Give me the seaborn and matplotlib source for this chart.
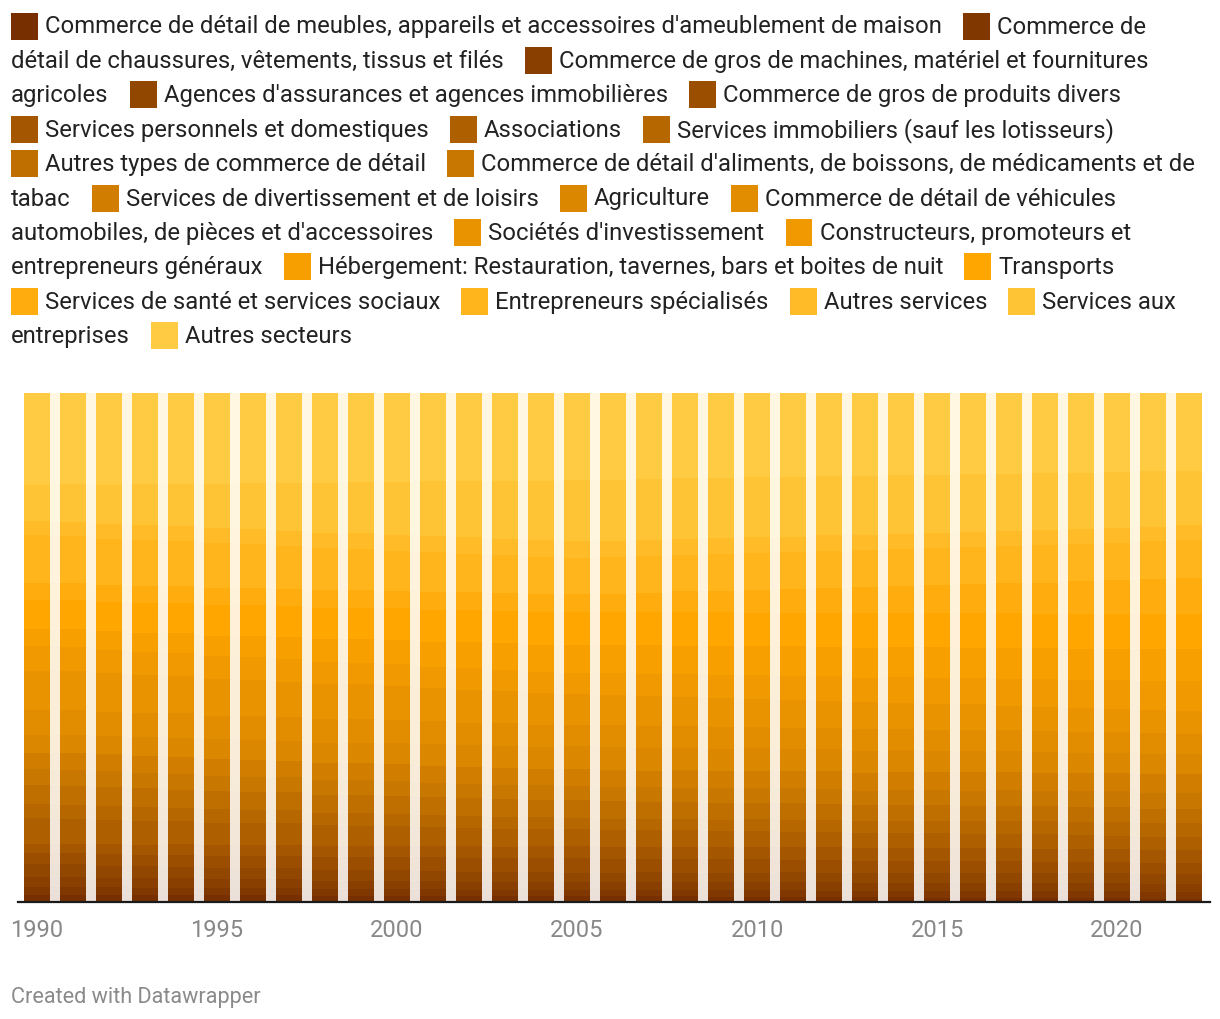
import pandas as pd
import seaborn as sns
import matplotlib.pyplot as plt
from matplotlib.colors import LinearSegmentedColormap
from matplotlib.patches import Rectangle

# Years shown on the x axis
years = list(range(1990, 2023))

# Categories, bottom of the stack first (same order as the legend)
categories = [
    "Commerce de détail de meubles, appareils et accessoires d'ameublement de maison",
    "Commerce de détail de chaussures, vêtements, tissus et filés",
    "Commerce de gros de machines, matériel et fournitures agricoles",
    "Agences d'assurances et agences immobilières",
    "Commerce de gros de produits divers",
    "Services personnels et domestiques",
    "Associations",
    "Services immobiliers (sauf les lotisseurs)",
    "Autres types de commerce de détail",
    "Commerce de détail d'aliments, de boissons, de médicaments et de tabac",
    "Services de divertissement et de loisirs",
    "Agriculture",
    "Commerce de détail de véhicules automobiles, de pièces et d'accessoires",
    "Sociétés d'investissement",
    "Constructeurs, promoteurs et entrepreneurs généraux",
    "Hébergement: Restauration, tavernes, bars et boites de nuit",
    "Transports",
    "Services de santé et services sociaux",
    "Entrepreneurs spécialisés",
    "Autres services",
    "Services aux entreprises",
    "Autres secteurs",
]

# Share of each category per year (%)
meubles = [1.4, 1.4, 1.4, 1.3, 1.3, 1.3, 1.3, 1.3, 1.2, 1.2, 1.2, 1.2, 1.2, 1.2, 1.2, 1.2,
           1.1, 1.1, 1.1, 1.0, 1.0, 1.0, 0.9, 0.9, 0.9, 0.8, 0.8, 0.8, 0.7, 0.7, 0.7, 0.6, 0.6]
chaussures = [1.6, 1.6, 1.5, 1.5, 1.5, 1.4, 1.4, 1.4, 1.3, 1.3, 1.3, 1.3, 1.2, 1.2, 1.2, 1.2,
              1.2, 1.2, 1.2, 1.3, 1.3, 1.3, 1.3, 1.3, 1.3, 1.4, 1.4, 1.4, 1.4, 1.4, 1.4, 1.4, 1.4]
gros_machines = [2.0, 2.0, 1.9, 1.9, 1.9, 1.8, 1.8, 1.8, 1.7, 1.7, 1.7, 1.7, 1.6, 1.6, 1.6, 1.6,
                 1.6, 1.7, 1.7, 1.6, 1.6, 1.6, 1.7, 1.6, 1.6, 1.6, 1.5, 1.6, 1.6, 1.6, 1.6, 1.6, 1.6]
assurances = [2.4, 2.4, 2.3, 2.3, 2.2, 2.2, 2.1, 2.1, 2.0, 2.0, 2.0, 1.9, 1.9, 1.9, 1.8, 1.8,
              1.8, 1.8, 1.8, 1.9, 1.9, 1.9, 1.9, 1.9, 1.9, 2.0, 2.0, 2.0, 2.0, 2.0, 2.0, 2.0, 2.0]
gros_divers = [2.2, 2.2, 2.3, 2.3, 2.4, 2.4, 2.5, 2.5, 2.6, 2.6, 2.6, 2.7, 2.7, 2.7, 2.8, 2.8,
               2.8, 2.7, 2.7, 2.6, 2.6, 2.5, 2.5, 2.4, 2.4, 2.3, 2.3, 2.2, 2.2, 2.1, 2.1, 2.0, 2.0]
personnels = [1.8, 1.8, 1.9, 1.9, 2.0, 2.0, 2.0, 2.1, 2.1, 2.2, 2.2, 2.2, 2.3, 2.3, 2.4, 2.4,
              2.4, 2.4, 2.4, 2.4, 2.5, 2.5, 2.5, 2.5, 2.5, 2.5, 2.6, 2.6, 2.6, 2.6, 2.6, 2.6, 2.6]
associations = [5.1, 5.0, 4.9, 4.8, 4.6, 4.5, 4.4, 4.3, 4.1, 4.0, 3.9, 3.8, 3.6, 3.5, 3.4, 3.3,
                3.3, 3.2, 3.2, 3.1, 3.1, 3.0, 3.0, 2.9, 2.9, 2.9, 2.8, 2.8, 2.8, 2.7, 2.7, 2.6, 2.6]
immobiliers = [2.8, 2.8, 2.7, 2.7, 2.6, 2.6, 2.5, 2.5, 2.4, 2.4, 2.4, 2.3, 2.3, 2.3, 2.2, 2.2,
               2.2, 2.2, 2.3, 2.3, 2.3, 2.4, 2.4, 2.4, 2.5, 2.5, 2.5, 2.6, 2.6, 2.7, 2.7, 2.8, 2.8]
autres_detail = [3.7, 3.7, 3.7, 3.7, 3.6, 3.6, 3.6, 3.6, 3.6, 3.6, 3.5, 3.5, 3.5, 3.5, 3.5, 3.5,
                 3.4, 3.4, 3.3, 3.3, 3.2, 3.2, 3.1, 3.1, 3.1, 3.0, 3.0, 3.0, 2.9, 2.9, 2.9, 2.8, 2.8]
aliments = [3.1, 3.1, 3.1, 3.0, 3.0, 3.0, 3.0, 2.9, 2.9, 2.9, 2.9, 2.9, 2.8, 2.8, 2.8, 2.8,
            2.8, 2.8, 2.8, 2.9, 2.9, 2.9, 2.9, 2.9, 3.0, 3.0, 3.0, 3.0, 3.0, 3.1, 3.1, 3.1, 3.1]
divertissement = [3.3, 3.4, 3.3, 3.3, 3.4, 3.3, 3.3, 3.2, 3.3, 3.3, 3.4, 3.3, 3.3, 3.3, 3.2, 3.3,
                  3.3, 3.3, 3.4, 3.4, 3.4, 3.4, 3.5, 3.5, 3.5, 3.5, 3.6, 3.6, 3.6, 3.6, 3.6, 3.7, 3.7]
agriculture = [3.5, 3.6, 3.6, 3.7, 3.8, 3.8, 3.9, 4.0, 4.0, 4.1, 4.2, 4.2, 4.3, 4.4, 4.4, 4.5,
               4.5, 4.5, 4.4, 4.4, 4.4, 4.3, 4.3, 4.3, 4.2, 4.2, 4.2, 4.1, 4.1, 4.0, 4.0, 3.9, 3.9]
vehicules = [4.9, 4.9, 4.8, 4.8, 4.8, 4.7, 4.7, 4.6, 4.6, 4.6, 4.5, 4.5, 4.4, 4.4, 4.3, 4.3,
             4.3, 4.3, 4.3, 4.3, 4.2, 4.2, 4.2, 4.2, 4.2, 4.2, 4.2, 4.1, 4.1, 4.1, 4.1, 4.1, 4.1]
investissement = [7.7, 7.6, 7.5, 7.4, 7.3, 7.2, 7.1, 7.0, 6.9, 6.8, 6.7, 6.6, 6.5, 6.4, 6.2, 6.1,
                  6.0, 5.9, 5.8, 5.7, 5.6, 5.5, 5.4, 5.3, 5.2, 5.1, 5.0, 4.9, 4.8, 4.7, 4.6, 4.5, 4.5]
constructeurs = [4.9, 4.8, 4.7, 4.6, 4.5, 4.5, 4.4, 4.4, 4.3, 4.3, 4.2, 4.2, 4.2, 4.1, 4.1, 4.1,
                 4.2, 4.3, 4.4, 4.5, 4.6, 4.7, 4.8, 4.9, 5.0, 5.1, 5.2, 5.3, 5.4, 5.5, 5.6, 5.8, 5.9]
hebergement = [3.3, 3.4, 3.6, 3.7, 3.9, 4.0, 4.2, 4.3, 4.5, 4.6, 4.8, 4.9, 5.1, 5.2, 5.4, 5.5,
               5.5, 5.6, 5.6, 5.7, 5.7, 5.8, 5.8, 5.9, 5.9, 6.0, 6.0, 6.1, 6.1, 6.2, 6.2, 6.3, 6.3]
transports = [5.7, 5.8, 5.8, 5.9, 5.9, 6.0, 6.0, 6.1, 6.1, 6.2, 6.2, 6.3, 6.3, 6.4, 6.4, 6.5,
              6.5, 6.5, 6.6, 6.6, 6.6, 6.6, 6.7, 6.7, 6.7, 6.7, 6.8, 6.8, 6.8, 6.8, 6.9, 6.9, 6.9]
sante = [3.3, 3.3, 3.3, 3.3, 3.4, 3.4, 3.4, 3.4, 3.4, 3.4, 3.4, 3.5, 3.5, 3.5, 3.5, 3.5,
         3.7, 3.9, 4.1, 4.3, 4.5, 4.7, 4.9, 5.1, 5.3, 5.5, 5.7, 5.9, 6.1, 6.4, 6.6, 6.9, 7.1]
specialises = [9.4, 9.3, 9.1, 9.0, 8.8, 8.7, 8.5, 8.4, 8.2, 8.1, 7.9, 7.8, 7.6, 7.4, 7.3, 7.1,
               7.1, 7.1, 7.1, 7.2, 7.2, 7.2, 7.2, 7.3, 7.3, 7.3, 7.3, 7.4, 7.4, 7.4, 7.4, 7.5, 7.5]
autres_services = [2.8, 2.8, 2.9, 2.9, 2.9, 3.0, 3.0, 3.0, 3.1, 3.1, 3.1, 3.2, 3.2, 3.2, 3.3, 3.3,
                   3.3, 3.3, 3.2, 3.2, 3.2, 3.1, 3.1, 3.1, 3.0, 3.0, 3.0, 2.9, 2.9, 2.9, 2.9, 2.8, 2.8]
entreprises = [7.1, 7.4, 7.7, 8.1, 8.4, 8.7, 9.0, 9.4, 9.7, 10.0, 10.4, 10.7, 11.0, 11.4, 11.7, 12.0,
               12.0, 11.9, 11.9, 11.8, 11.7, 11.7, 11.6, 11.5, 11.5, 11.4, 11.3, 11.3, 11.2, 11.1, 11.0, 10.9, 10.8]
autres_secteurs = [18.1, 18.0, 18.0, 17.9, 17.8, 17.8, 17.7, 17.7, 17.6, 17.5, 17.5, 17.4, 17.3, 17.3, 17.2, 17.1,
                   17.0, 16.9, 16.8, 16.7, 16.6, 16.5, 16.4, 16.3, 16.2, 16.1, 16.0, 15.9, 15.8, 15.7, 15.6, 15.4, 15.3]

shares = [meubles, chaussures, gros_machines, assurances, gros_divers, personnels,
          associations, immobiliers, autres_detail, aliments, divertissement, agriculture,
          vehicules, investissement, constructeurs, hebergement, transports, sante,
          specialises, autres_services, entreprises, autres_secteurs]

rows = []
for cat, vals in zip(categories, shares):
    for year, v in zip(years, vals):
        rows.append({"year": year, "category": cat, "share": v})
df = pd.DataFrame(rows)

W, H = 1220, 1020
LEG_FS = 17.2

sns.set_theme(style="white")
plt.rcParams['font.family'] = ['Roboto', 'DejaVu Sans']

fig = plt.figure(figsize=(W / 100, H / 100), dpi=100)
ax = fig.add_axes([18 / W, 117 / H, 1192 / W, 509 / H])

cmap = LinearSegmentedColormap.from_list(
    "dw", [(0.0, "#772f00"), (0.52, "#da8600"), (0.76, "#ffa500"), (1.0, "#ffcb42")])
n = len(categories)
colors = [cmap(i / (n - 1)) for i in range(n)]
palette = dict(zip(categories, colors))

# histplot stacks the first hue level on top, so reverse the order
top_first = categories[::-1]

# faint full-width fill that shows through the gaps between columns
sns.histplot(data=df, x="year", weights="share", hue="category", hue_order=top_first,
             palette=palette, multiple="fill", discrete=True, shrink=1.0,
             alpha=0.15, linewidth=0, legend=False, ax=ax)
# keep it between the first and last column only
clip = Rectangle((years[0] - 0.36, 0), years[-1] - years[0] + 0.72, 1,
                 transform=ax.transData, visible=False)
ax.add_patch(clip)
for p in ax.patches:
    p.set_clip_path(clip)

sns.histplot(data=df, x="year", weights="share", hue="category", hue_order=top_first,
             palette=palette, multiple="fill", discrete=True, shrink=0.72,
             alpha=1.0, linewidth=0, legend=False, ax=ax)

ax.set_xlim(1990 - 0.528, 2022 + 0.58)
ax.set_ylim(0, 1)
ax.set_yticks([])
ax.set_xticks(list(range(1990, 2021, 5)))
ax.tick_params(axis="x", length=0, pad=11.5, labelsize=17, labelcolor="#888888")
ax.set_xlabel("")
ax.set_ylabel("")
for side in ["top", "left", "right"]:
    ax.spines[side].set_visible(False)
ax.spines["bottom"].set_color("#1a1a1a")
ax.spines["bottom"].set_linewidth(1.6)

# Flowing legend at the top, wrapped word by word like the original
renderer = fig.canvas.get_renderer()


def text_width(s):
    t = fig.text(0, 0, s, fontsize=LEG_FS)
    w = t.get_window_extent(renderer).width
    t.remove()
    return w


def put_text(s, x, y):
    fig.text(x / W, 1 - y / H, s, fontsize=LEG_FS, color="#222222",
             ha="left", va="center")


left, right = 11, 1204
line_h = 34.4
sw = 27
x, y = left, 27
for cat, col in zip(categories, colors):
    words = cat.split(" ")
    if x > left and x + sw + 7 + text_width(words[0]) > right:
        x, y = left, y + line_h
    fig.add_artist(Rectangle((x / W, 1 - (y + sw / 2) / H), sw / W, sw / H,
                             transform=fig.transFigure, color=col, linewidth=0))
    start = x + sw + 7
    buf = []
    for w in words:
        if buf and start + text_width(" ".join(buf + [w])) > right:
            put_text(" ".join(buf), start, y)
            start, y = left, y + line_h
            buf = [w]
        else:
            buf.append(w)
    put_text(" ".join(buf), start, y)
    x = start + text_width(" ".join(buf)) + 21

fig.text(11 / W, 1 - 998 / H, "Created with Datawrapper", fontsize=15.6,
         color="#8a8a8a", ha="left", va="center")

fig.savefig("out.png", dpi=100)
